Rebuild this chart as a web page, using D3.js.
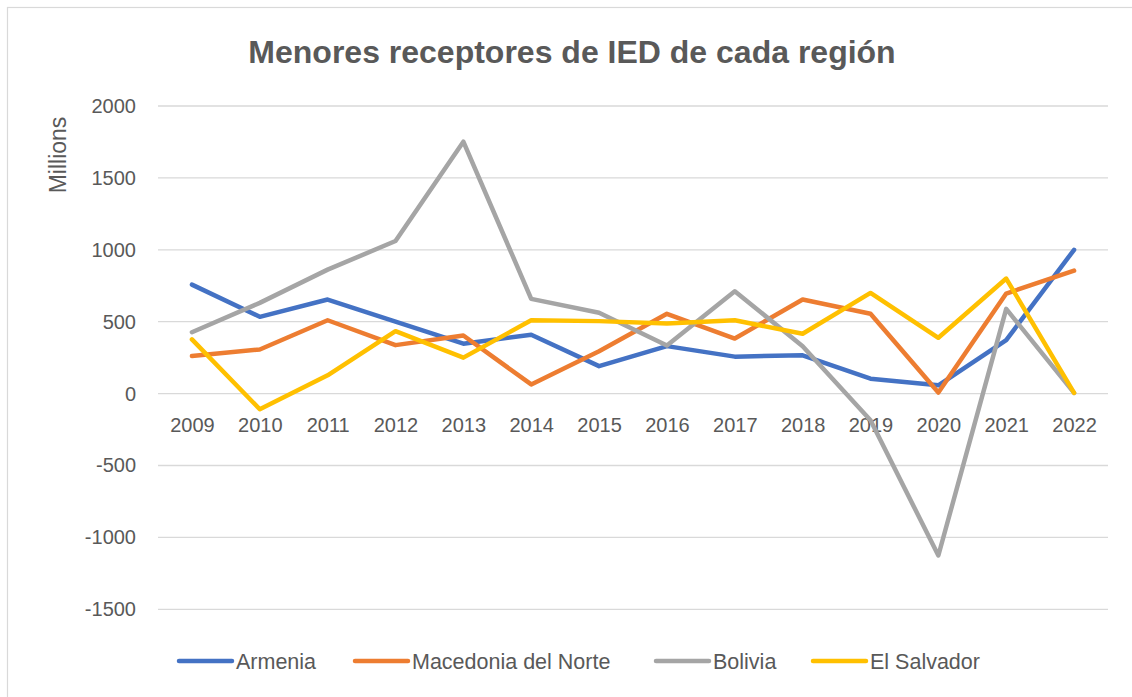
<!DOCTYPE html>
<html>
<head>
<meta charset="utf-8">
<script src="https://cdn.jsdelivr.net/npm/d3@7"></script>
<style>
    body { margin: 0; background: #fff; }
    text { font-family: "Liberation Sans", Arial, sans-serif; fill: #595959; }
</style>
</head>
<body>
<div id="chart"></div>
<script>
var years = [2009, 2010, 2011, 2012, 2013, 2014, 2015, 2016, 2017, 2018, 2019, 2020, 2021, 2022];
var armenia = [758, 534, 654, 500, 347, 409, 191, 330, 257, 266, 104, 58, 372, 1000];
var macedonia = [261, 307, 510, 337, 404, 64, 295, 555, 383, 654, 555, 7, 696, 855];
var bolivia = [427, 631, 862, 1061, 1752, 659, 562, 335, 712, 330, -185, -1126, 589, 5];
var elSalvador = [377, -109, 127, 434, 250, 510, 504, 488, 510, 416, 700, 388, 800, 5];
var seriesNames = ["Armenia", "Macedonia del Norte", "Bolivia", "El Salvador"];
var seriesColors = ["#4472C4", "#ED7D31", "#A5A5A5", "#FFC000"];
var yTicks = [-1500, -1000, -500, 0, 500, 1000, 1500, 2000];

var width = 1132;
var height = 697;
var margin = { top: 106, right: 24, bottom: 88, left: 158 };

var series = [armenia, macedonia, bolivia, elSalvador];

var svg = d3.select("#chart").append("svg")
    .attr("width", width)
    .attr("height", height);

// chart frame
svg.append("rect")
    .attr("x", 7.5)
    .attr("y", 7.5)
    .attr("width", width + 10)
    .attr("height", height + 10)
    .attr("fill", "#fff")
    .attr("stroke", "#d9d9d9")
    .attr("stroke-width", 1.2);

var x = d3.scalePoint()
    .domain(years)
    .range([margin.left, 1108])
    .padding(0.5);

var y = d3.scaleLinear()
    .domain([-1500, 2000])
    .range([609.3, 106]);

// gridlines
svg.append("g")
    .selectAll("line")
    .data(yTicks)
    .enter().append("line")
    .attr("x1", margin.left)
    .attr("x2", 1108)
    .attr("y1", d => y(d))
    .attr("y2", d => y(d))
    .attr("stroke", "#d9d9d9")
    .attr("stroke-width", 1.3);

svg.append("g")
    .attr("transform", `translate(${margin.left - 22},0)`)
    .call(d3.axisLeft(y).tickValues(yTicks).tickSize(0).tickPadding(0)
        .tickFormat(function (d) { return String(d) }))
    .call(g => g.select(".domain").remove())
    .call(g => g.selectAll("text")
        .style("font-size", "20px")
        .style("fill", "#595959"));

// year labels sit just below the zero line
svg.append("g")
    .attr("transform", `translate(0,${y(0) + 31})`)
    .call(d3.axisBottom(x).tickSize(0).tickPadding(0))
    .call(g => g.select(".domain").remove())
    .call(g => g.selectAll("text")
        .attr("dy", "0.35em")
        .style("font-size", "20px")
        .style("fill", "#595959"));

svg.append("text")
    .attr("transform", "translate(66,155) rotate(-90)")
    .attr("text-anchor", "middle")
    .style("font-size", "23px")
    .text("Millions");

svg.append("text")
    .attr("x", 572)
    .attr("y", 63)
    .attr("text-anchor", "middle")
    .style("font-size", "32px")
    .style("font-weight", "bold")
    .text("Menores receptores de IED de cada región");

var line = d3.line()
    .x(function (d, i) { return x(years[i]) })
    .y(function (d) { return y(d) });

for (var i = 0; i < series.length; i++) {
    svg.append("path")
        .datum(series[i])
        .attr("fill", "none")
        .attr("stroke", seriesColors[i])
        .attr("stroke-width", 4.5)
        .attr("stroke-linejoin", "round")
        .attr("stroke-linecap", "round")
        .attr("d", line);
}

// legend
var legendX = [179, 355, 656, 813];
var legend = svg.append("g");
for (var i = 0; i < seriesNames.length; i++) {
    legend.append("line")
        .attr("x1", legendX[i])
        .attr("x2", legendX[i] + 53)
        .attr("y1", 661)
        .attr("y2", 661)
        .attr("stroke", seriesColors[i])
        .attr("stroke-width", 4.5)
        .attr("stroke-linecap", "round");
    legend.append("text")
        .attr("x", legendX[i] + 57)
        .attr("y", 661)
        .attr("dy", "0.35em")
        .style("font-size", "21.5px")
        .text(seriesNames[i]);
}
</script>
</body>
</html>
